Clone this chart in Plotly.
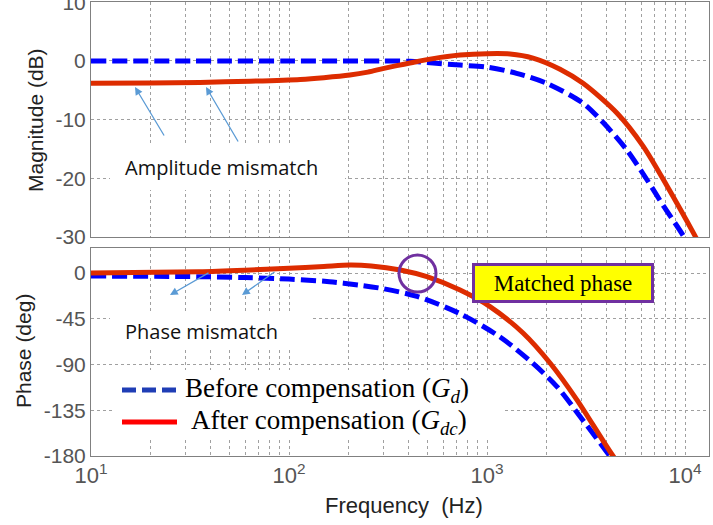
import plotly.graph_objects as go

# ---------------- data ----------------
mag_freq_gd = [10, 50, 100, 200, 300, 408, 534, 731, 1000, 1410, 2000, 3055, 3860, 5060, 6410, 7780, 9800, 11000]
mag_gd = [0, 0, 0, 0, 0, -0.05, -0.35, -0.7, -1.05, -2.1, -3.8, -7.2, -10.5, -15.1, -20.2, -24.7, -29.8, -33]

mag_freq_gdc = [10, 20, 35.5, 63.5, 114, 150, 203, 250, 298, 350, 408, 534, 731, 1000, 1306, 1707, 2337, 3055, 4540, 6140, 8110, 11230, 12600]
mag_gdc = [-3.8, -3.75, -3.65, -3.45, -3.15, -2.85, -2.4, -1.9, -1.3, -0.8, -0.35, 0.4, 1.0, 1.25, 1.2, 0.5, -1.4, -3.8, -8.9, -14.5, -21.3, -29.8, -33]

ph_freq_gd = [10, 35, 60, 100, 160, 228, 300, 443, 731, 1164, 1707, 2260, 3055, 4170, 4800]
ph_gd = [-3, -3.6, -4.5, -6, -8.5, -12, -15.5, -23, -40, -63, -89, -112, -145, -180, -195]

ph_freq_gdc = [10, 35, 60, 100, 150, 203, 260, 365, 497, 731, 1035, 1520, 2090, 2850, 4330, 5000]
ph_gdc = [0, 1.3, 2.8, 4.6, 6.5, 7.9, 7.0, 3.0, -3.6, -16.7, -33, -59, -89, -125, -180, -195]

x_tickvals = [10, 100, 1000, 10000]
x_ticktext = ["10<sup>1</sup>", "10<sup>2</sup>", "10<sup>3</sup>", "10<sup>4</sup>"]
x_minor = [m * d for d in (10, 100, 1000, 10000) for m in range(2, 10)]
mag_ticks = [-30, -20, -10, 0, 10]
ph_ticks = [-180, -135, -90, -45, 0]

label_gd = "Before compensation (<i>G</i><sub><i>d</i></sub>)"
label_gdc = "After compensation (<i>G</i><sub><i>dc</i></sub>)"

# ---------------- layout helpers ----------------
W, H = 713, 525
ML, MR, MT, MB = 91, 4, 2, 69
PW, PH = W - ML - MR, H - MT - MB


def px(x):
    return (x - ML) / PW


def py(y):
    return (H - MB - y) / PH


BLUE = "#0000FF"
RED = "#DD2C00"
GRID = "#a0a0a0"
TICKC = "#555555"
PURPLE = "#7030A0"
SM = 0.8

fig = go.Figure()
fig.add_trace(go.Scatter(x=mag_freq_gd, y=mag_gd, mode="lines", line=dict(color=BLUE, width=5, dash="15px,6px", shape="spline", smoothing=SM), xaxis="x", yaxis="y", showlegend=False, name="Gd"))
fig.add_trace(go.Scatter(x=mag_freq_gdc, y=mag_gdc, mode="lines", line=dict(color=RED, width=5, shape="spline", smoothing=SM), xaxis="x", yaxis="y", showlegend=False, name="Gdc"))
fig.add_trace(go.Scatter(x=ph_freq_gd, y=ph_gd, mode="lines", line=dict(color=BLUE, width=5, dash="15px,6px", shape="spline", smoothing=SM), xaxis="x2", yaxis="y2", showlegend=False, name="Gd"))
fig.add_trace(go.Scatter(x=ph_freq_gdc, y=ph_gdc, mode="lines", line=dict(color=RED, width=5, shape="spline", smoothing=SM), xaxis="x2", yaxis="y2", showlegend=False, name="Gdc"))

common_x = dict(type="log", range=[1, 4.121], showgrid=True, gridcolor=GRID, griddash="dot", gridwidth=1,
                tickvals=x_tickvals, ticktext=x_ticktext, ticks="", automargin=False,
                minor=dict(tickvals=x_minor, showgrid=True, gridcolor=GRID, griddash="dot", gridwidth=1),
                showline=True, linecolor="#808080", linewidth=1, mirror=True, zeroline=False)

fig.update_layout(
    width=W, height=H,
    margin=dict(l=ML, r=MR, t=MT, b=MB, autoexpand=False),
    paper_bgcolor="white", plot_bgcolor="white",
    font=dict(family="Liberation Sans, Arial", color=TICKC, size=21),
    xaxis=dict(domain=[0, 1], anchor="y", showticklabels=False, **common_x),
    xaxis2=dict(domain=[0, 1], anchor="y2", showticklabels=True, tickfont=dict(size=22, color=TICKC), **common_x),
    yaxis=dict(domain=[py(237), 1], anchor="x", range=[-30, 10.05], tickvals=mag_ticks,
               ticktext=[str(v) for v in mag_ticks], tickfont=dict(size=21, color=TICKC),
               ticklabeloverflow="allow", automargin=False,
               showgrid=True, gridcolor=GRID, griddash="dot", zeroline=False, ticks="",
               showline=True, linecolor="#808080", linewidth=1, mirror=True),
    yaxis2=dict(domain=[0, py(248)], anchor="x2", range=[-180, 24.6], tickvals=ph_ticks,
                ticktext=[str(v) for v in ph_ticks], tickfont=dict(size=21, color=TICKC), automargin=False,
                showgrid=True, gridcolor=GRID, griddash="dot", zeroline=False, ticks="",
                showline=True, linecolor="#808080", linewidth=1, mirror=True),
)

shapes = []
annotations = []

# white boxes behind text labels (cover grid)
for (x0, y0, x1, y1) in [(110, 146, 345, 190), (110, 312, 310, 350), (115, 370, 505, 440)]:
    shapes.append(dict(type="rect", xref="paper", yref="paper", x0=px(x0), x1=px(x1), y0=py(y1), y1=py(y0),
                       fillcolor="white", line=dict(width=0), layer="above"))

# legend samples
shapes.append(dict(type="line", xref="paper", yref="paper", x0=px(122), x1=px(176), y0=py(390), y1=py(390),
                   line=dict(color="#1F3DB5", width=5, dash="14px,6px"), layer="above"))
shapes.append(dict(type="line", xref="paper", yref="paper", x0=px(122), x1=px(177), y0=py(422), y1=py(422),
                   line=dict(color="#FF0000", width=5), layer="above"))

# purple circle
shapes.append(dict(type="circle", xref="paper", yref="paper", x0=px(399), x1=px(436), y0=py(292), y1=py(255),
                   line=dict(color=PURPLE, width=3), layer="above"))

serif = "Liberation Serif, Times New Roman"
sans = "Open Sans, Noto Sans"

annotations += [
    dict(text=label_gd, x=px(183), y=py(390), xref="paper", yref="paper", xanchor="left", yanchor="middle",
         showarrow=False, font=dict(family=serif, size=27, color="black")),
    dict(text=label_gdc, x=px(189), y=py(422), xref="paper", yref="paper", xanchor="left", yanchor="middle",
         showarrow=False, font=dict(family=serif, size=27, color="black")),
    dict(text="Amplitude mismatch", x=px(123), y=py(168), xref="paper", yref="paper", xanchor="left", yanchor="middle",
         showarrow=False, font=dict(family=sans, size=20, color="#111111")),
    dict(text="Phase mismatch", x=px(123), y=py(331), xref="paper", yref="paper", xanchor="left", yanchor="middle",
         showarrow=False, font=dict(family=sans, size=20, color="#111111")),
    dict(text="Matched phase", x=px(562.5), y=py(282.5), xref="paper", yref="paper", xanchor="center", yanchor="middle",
         showarrow=False, font=dict(family=serif, size=23, color="black"), bgcolor="#FFFF00",
         bordercolor=PURPLE, borderwidth=3, borderpad=0, width=176, height=34),
    dict(text="Magnitude (dB)", x=px(35), y=py(120), xref="paper", yref="paper", xanchor="center", yanchor="middle",
         textangle=-90, showarrow=False, font=dict(family="Liberation Sans, Arial", size=21, color="#222222")),
    dict(text="Phase (deg)", x=px(23), y=py(351), xref="paper", yref="paper", xanchor="center", yanchor="middle",
         textangle=-90, showarrow=False, font=dict(family="Liberation Sans, Arial", size=21, color="#222222")),
    dict(text="Frequency\u00a0\u00a0(Hz)", x=px(404), y=py(505), xref="paper", yref="paper", xanchor="center", yanchor="middle",
         showarrow=False, font=dict(family="Liberation Sans, Arial", size=22, color="#222222")),
]

# arrows (head position, tail offset in px)
for (hx, hy, ax, ay) in [(135, 87, 30, 50), (206, 87, 33, 56), (170, 295, 40, -23), (242, 295, 34, -24)]:
    annotations.append(dict(text="", x=px(hx), y=py(hy), xref="paper", yref="paper", showarrow=True,
                            ax=ax, ay=ay, axref="pixel", ayref="pixel", arrowcolor="#5B9BD5",
                            arrowwidth=1.3, arrowhead=2, arrowsize=1.2, standoff=0))

fig.update_layout(shapes=shapes, annotations=annotations)
fig.write_html("out.html")
